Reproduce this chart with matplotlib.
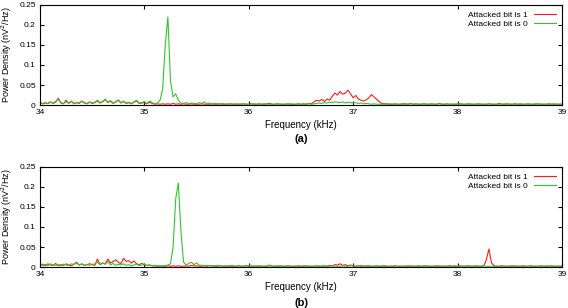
import numpy as np
import matplotlib.pyplot as plt

plt.rcParams['font.family'] = ['Liberation Sans', 'DejaVu Sans']

# frequency grid (kHz), one sample every 25 Hz
freq = np.arange(201) * 0.025 + 34.0

# panel (a), values in 1e-3 nV^2/Hz
a_bit1 = [6, 3, 5, 4, 8, 4, 7, 17, 5, 3, 12, 4, 9, 3, 6, 4, 10, 5, 3, 7,
          4, 6, 10, 5, 8, 14, 6, 10, 4, 7, 12, 5, 9, 4, 6, 3, 7, 10, 4, 5,
          6, 3, 7, 4, 2, 3,
          2, 3, 2, 3, 2, 4, 2,
          3, 2, 3, 2, 2, 3, 2,
          2, 2, 3, 2, 2, 2, 3, 2, 2, 3, 2, 2, 2, 3, 2, 2, 2, 2, 3, 2,
          2, 3, 2, 2, 3, 2, 2, 3, 4, 2, 2, 3, 2, 2, 2, 3, 2, 2, 2, 3,
          2, 3, 2, 4, 3, 8, 12, 10, 14, 9, 15, 12, 22, 30, 25, 34, 27, 30, 37, 28,
          18, 24, 15, 12, 10, 13, 18, 26, 20, 14, 8, 4, 3, 3, 2, 2, 3, 2, 2, 3,
          3, 2, 4, 2, 3, 2, 2, 3, 2, 2, 3, 2, 2, 4, 2, 2, 3, 2, 2, 2,
          2, 3, 2, 2, 3, 2, 2, 2, 3, 2, 2, 2, 3, 2, 2, 2, 4, 2, 2, 3,
          2, 2, 3, 2, 2, 2, 2, 3, 2, 2, 2, 3, 2, 2, 2, 3, 2, 2, 2, 2,
          2]
a_bit0 = [5, 4, 6, 3, 7, 5, 9, 15, 6, 4, 8, 5, 10, 4, 7, 5, 9, 6, 4, 8,
          5, 7, 12, 6, 9, 15, 7, 11, 5, 8, 13, 6, 10, 5, 7, 4, 8, 12, 5, 6,
          9, 4, 10, 6, 3, 5,
          12, 40, 150, 220, 60, 20, 28,
          12, 5, 4, 6, 3, 5, 4,
          3, 6, 4, 8, 3, 5, 2, 4, 3, 2, 4, 2, 3, 2, 2, 3, 2, 3, 2, 2,
          2, 2, 3, 2, 2, 2, 3, 2, 2, 2, 2, 3, 2, 2, 2, 2, 3, 2, 2, 2,
          2, 2, 2, 3, 2, 3, 4, 5, 4, 6, 5, 7, 6, 8, 7, 6, 8, 5, 7, 6,
          5, 6, 4, 5, 3, 4, 3, 2, 3, 2, 2, 2, 2, 2, 3, 2, 2, 2, 2, 2,
          2, 2, 3, 2, 2, 2, 2, 3, 2, 2, 2, 2, 2, 3, 2, 2, 2, 2, 2, 2,
          3, 2, 2, 2, 2, 3, 2, 2, 2, 2, 2, 2, 3, 2, 2, 2, 2, 2, 3, 2,
          2, 2, 2, 2, 3, 2, 2, 2, 2, 2, 3, 2, 2, 2, 2, 2, 2, 3, 2, 2,
          2]

# panel (b)
b_bit1 = [4, 7, 3, 8, 5, 4, 9, 3, 6, 4, 8, 5, 3, 7, 12, 5, 8, 4, 6, 5,
          7, 4, 20, 6, 10, 8, 20, 10, 14, 18, 12, 8, 22, 14, 16, 10, 15, 8, 6, 9,
          6, 4, 5, 3, 3, 2, 3, 2, 2, 3,
          2, 3, 2, 3, 2, 2, 3, 2, 4, 3,
          3, 2, 2, 3, 2, 4, 3, 2, 2, 3, 2, 2, 3, 2, 2, 2, 3, 2, 2, 3,
          2, 3, 2, 2, 3, 2, 2, 2, 3, 2, 2, 2, 3, 2, 2, 3, 2, 2, 2, 3,
          2, 2, 3, 2, 2, 2, 3, 2, 2, 3, 2, 4, 3, 6, 5, 8, 4, 6, 3, 5,
          3, 2, 3, 2, 2, 3, 2, 2, 2, 3, 2, 2, 3, 2, 2, 2, 3, 2, 2, 2,
          2, 3, 2, 2, 2, 3, 2, 2, 3, 2, 2, 2, 3, 2, 2, 2, 2, 3, 2, 2,
          2, 3, 2, 2, 3, 2, 2, 3, 2, 2, 3, 18, 45, 10, 3, 2, 2, 3, 2, 2,
          2, 3, 2, 2, 2, 3, 2, 2, 3, 2, 2, 2, 3, 2, 2, 2, 3, 2, 2, 2,
          2]
b_bit0 = [6, 4, 7, 3, 8, 5, 4, 6, 3, 7, 5, 4, 8, 6, 10, 5, 7, 4, 6, 9,
          5, 8, 12, 6, 10, 7, 14, 5, 9, 4, 7, 5, 8, 4, 6, 3, 5, 7, 4, 5,
          6, 4, 5, 3, 4, 3, 2, 3, 3, 5,
          8, 50, 170, 210, 90, 12, 5, 9, 12, 6,
          10, 5, 4, 3, 4, 3, 2, 3, 4, 3, 2, 3, 2, 4, 3, 2, 3, 2, 2, 3,
          3, 2, 2, 3, 2, 2, 2, 3, 5, 2, 2, 3, 2, 2, 2, 3, 2, 2, 2, 2,
          2, 3, 2, 2, 2, 2, 3, 2, 2, 4, 2, 2, 3, 2, 2, 2, 3, 2, 2, 3,
          3, 2, 2, 4, 2, 2, 3, 2, 2, 2, 2, 3, 2, 2, 2, 2, 3, 2, 2, 2,
          2, 2, 3, 2, 2, 2, 2, 3, 2, 2, 2, 2, 2, 3, 2, 2, 2, 2, 2, 3,
          2, 2, 2, 2, 3, 2, 2, 2, 2, 2, 3, 2, 2, 2, 2, 2, 2, 3, 2, 2,
          2, 2, 3, 2, 2, 2, 2, 2, 3, 2, 2, 2, 2, 2, 3, 2, 2, 2, 2, 2,
          2]

xticks = [34, 35, 36, 37, 38, 39]
yticks = [0, 0.05, 0.1, 0.15, 0.2, 0.25]
ytick_labels = ['0', '0.05', '0.1', '0.15', '0.2', '0.25']
red = '#ff1a1a'
green = '#2ec82e'

fig = plt.figure(figsize=(5.68, 3.08), dpi=100)
ax_a = fig.add_axes([0.0704, 0.659, 0.919, 0.325])
ax_b = fig.add_axes([0.0704, 0.133, 0.919, 0.325])

for ax, s1, s0, tag, tag_y in [(ax_a, a_bit1, a_bit0, '(a)', 0.54),
                               (ax_b, b_bit1, b_bit0, '(b)', 0.006)]:
    ax.plot(freq, np.array(s1) * 1e-3, color=red, lw=0.8, label='Attacked bit is 1')
    ax.plot(freq, np.array(s0) * 1e-3, color=green, lw=0.8, label='Attacked bit is 0')
    ax.set_xlim(34, 39)
    ax.set_ylim(0, 0.25)
    ax.set_xticks(xticks)
    ax.set_xticklabels([str(t) for t in xticks])
    ax.set_yticks(yticks)
    ax.set_yticklabels(ytick_labels)
    ax.tick_params(direction='in', top=True, right=True, length=3, width=0.8,
                   labelsize=6, pad=3)
    for sp in ax.spines.values():
        sp.set_linewidth(0.8)
    ax.set_xlabel('Frequency (kHz)', fontsize=7, labelpad=3)
    ax.set_ylabel('Power Density (nV$^2$/Hz)', fontsize=6.5)
    ax.yaxis.set_label_coords(-0.05, 0.5)
    ax.legend(loc='upper right', frameon=False, markerfirst=False, fontsize=6,
              handlelength=2.6, labelspacing=0.15, borderaxespad=0.3)
    fig.text(0.53, tag_y, tag, fontsize=8, fontweight='bold', ha='center')

fig.savefig('out.png', dpi=100)
